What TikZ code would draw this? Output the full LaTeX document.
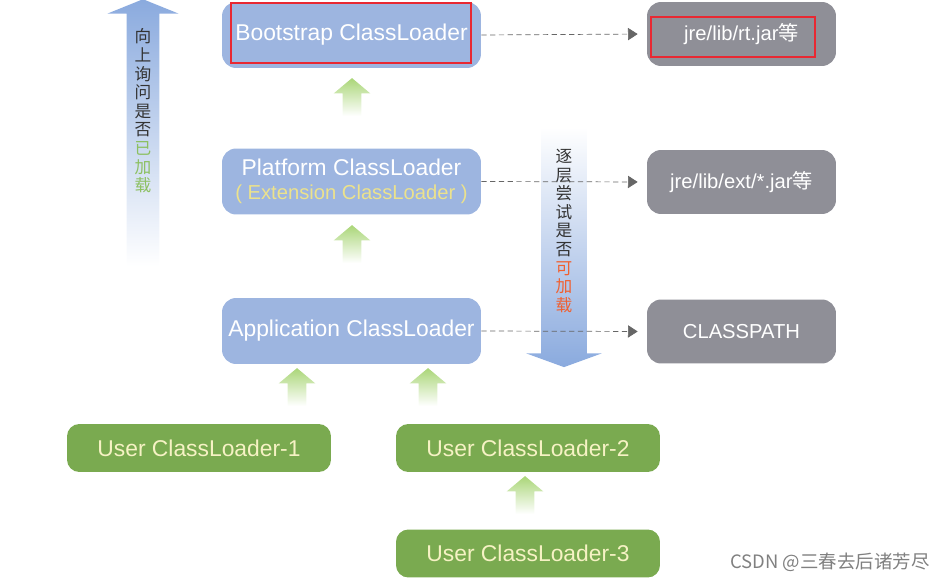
\documentclass[tikz,border=0pt]{standalone}
\usepackage{fontspec}
\setmainfont{Liberation Sans}
\newfontfamily\cjk{Noto Sans CJK SC}
\usetikzlibrary{arrows.meta,shapes.arrows}

\definecolor{loaderblue}{RGB}{157,181,224}
\definecolor{pathgray}{RGB}{143,143,151}
\definecolor{usergreen}{RGB}{122,170,80}
\definecolor{arrowgreen}{RGB}{170,214,120}
\definecolor{fadeblue}{RGB}{138,170,222}
\definecolor{usertext}{RGB}{246,242,196}
\definecolor{exttext}{RGB}{236,226,140}
\definecolor{hintgreen}{RGB}{140,192,96}
\definecolor{hintred}{RGB}{240,96,48}
\definecolor{markred}{RGB}{232,40,50}

\begin{document}
\begin{tikzpicture}[x=0.02cm,y=-0.02cm,
  loader/.style={rectangle,rounded corners=8pt,fill=loaderblue,text=white,
    minimum width=5.18cm,minimum height=1.32cm,font=\fontsize{13}{15}\selectfont},
  pathbox/.style={rectangle,rounded corners=8pt,fill=pathgray,text=white,
    minimum width=3.78cm,minimum height=1.28cm,font=\fontsize{11.5}{14}\selectfont},
  userbox/.style={rectangle,rounded corners=7pt,fill=usergreen,text=usertext,
    minimum width=5.28cm,minimum height=0.96cm,font=\fontsize{13}{15}\selectfont},
  uparrow/.style={single arrow,shape border rotate=90,inner sep=0.18cm,
    minimum height=0.76cm,minimum width=0.72cm,single arrow head extend=0.18cm,
    single arrow tip angle=100,top color=arrowgreen,bottom color=white},
  link/.style={densely dashed,line width=0.4pt,shorten >=0.18cm,
    -{Triangle[length=5.5pt,width=7pt]},color=black!60},
  hint/.style={align=center,inner sep=0pt,text=black!80,
    font=\cjk\fontsize{9.5}{10.6}\selectfont},
  redmark/.style={draw=markred,line width=1.2pt}]
\useasboundingbox (0,0) rectangle (951,581);

% big hint arrows
\node[single arrow,shape border rotate=90,inner sep=0.32cm,
  minimum height=5.34cm,minimum width=1.4cm,single arrow head extend=0.38cm,
  single arrow tip angle=136,top color=fadeblue,bottom color=white] (askup) at (143,136) {};
\node[single arrow,shape border rotate=270,inner sep=0.45cm,
  minimum height=4.8cm,minimum width=1.5cm,single arrow head extend=0.3cm,
  single arrow tip angle=140,top color=white,bottom color=fadeblue] (trydown) at (564,243) {};
\node[hint] (asktext) at (143,111) {向\\上\\询\\问\\是\\否\\\textcolor{hintgreen}{已}\\\textcolor{hintgreen}{加}\\\textcolor{hintgreen}{载}};
\node[hint] (trytext) at (564,231) {逐\\层\\尝\\试\\是\\否\\\textcolor{hintred}{可}\\\textcolor{hintred}{加}\\\textcolor{hintred}{载}};

% class loaders
\node[loader] (boot) at (351.5,35) {Bootstrap ClassLoader};
\node[loader,align=center] (plat) at (351.5,181.5) {Platform ClassLoader\\[-1pt]
  {\fontsize{11.5}{13}\selectfont\color{exttext}( Extension ClassLoader )}};
\node[loader] (app) at (351.5,331) {Application ClassLoader};
\node[userbox] (user1) at (199,448) {User ClassLoader-1};
\node[userbox] (user2) at (528,448) {User ClassLoader-2};
\node[userbox] (user3) at (528,553.5) {User ClassLoader-3};

% load paths
\node[pathbox] (rt) at (741.5,34) {jre/lib/rt.jar{\cjk 等}};
\node[pathbox] (ext) at (741.5,182) {jre/lib/ext/*.jar{\cjk 等}};
\node[pathbox] (cp) at (741.5,331.5) {CLASSPATH};

% parent delegation
\node[uparrow] (up1) at (352,101) {};
\node[uparrow] (up2) at (352,248) {};
\node[uparrow] (up3) at (297,391) {};
\node[uparrow] (up4) at (428,391) {};
\node[uparrow] (up5) at (525,499) {};

\draw[link] (boot.east) -- (rt.west);
\draw[link] (plat.east) -- (ext.west);
\draw[link] (app.east) -- (cp.west);

% highlights
\draw[redmark] (231,3) rectangle (471,63);
\draw[redmark] (651,17) rectangle (815,57);

\node[text=black!50,font=\cjk\fontsize{10.5}{12}\selectfont] (csdn) at (830,562) {CSDN @三春去后诸芳尽};
\end{tikzpicture}
\end{document}
